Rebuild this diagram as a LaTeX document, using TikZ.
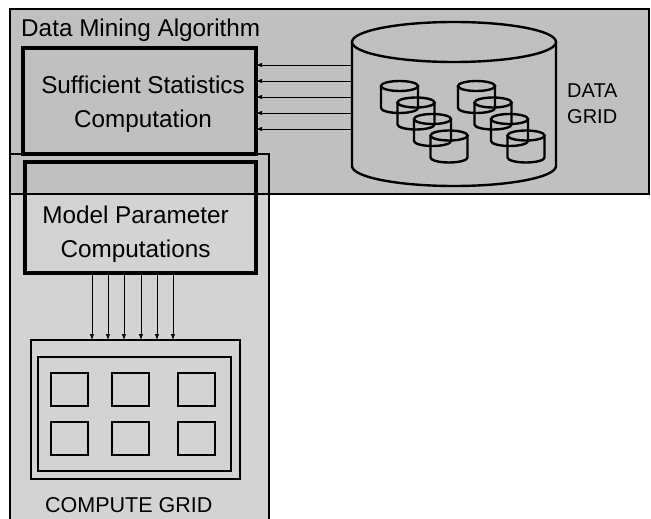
\documentclass[tikz,border=0pt]{standalone}
\usepackage{fontspec}
\setmainfont{Liberation Sans}
\usetikzlibrary{arrows.meta}
\definecolor{dmgray}{HTML}{C0C0C0}
\definecolor{cggray}{HTML}{D3D3D3}
\begin{document}
\begin{tikzpicture}[x=1pt,y=-1pt,
  area/.style={inner sep=0pt, outer sep=0pt, anchor=north west},
  frame/.style={draw=black, line width=1.3pt},
  thickbox/.style={area, draw=black, line width=3.5pt},
  arr/.style={-{Latex[length=6pt,width=4.5pt]}, line width=0.8pt},
  lbl/.style={font=\fontsize{24.3}{34}\selectfont, inner sep=0pt, anchor=base},
  small/.style={font=\fontsize{20}{27}\selectfont, inner sep=0pt, anchor=base west},
  cyl/.style={line width=2.4pt},
  sq/.style={area, draw=black, line width=2.2pt, minimum width=37pt, minimum height=33pt},
  mini/.pic={
    \draw[cyl] (18.5,5) ellipse[x radius=18.5pt, y radius=5pt];
    \draw[cyl] (0,5) -- (0,27) arc[start angle=180, end angle=360, x radius=18.5pt, y radius=5pt] -- (37,5);
  }
]
\useasboundingbox (0,0) rectangle (651,519);
\fill[white] (0,0) rectangle (651,519);
% backgrounds
\node[area, fill=cggray, minimum width=259pt, minimum height=371pt] (cg) at (10,154) {};
\node[area, fill=dmgray, minimum width=639pt, minimum height=185pt] (dm) at (10,9) {};
\draw[frame] (cg.north west) rectangle (cg.south east);
\draw[frame] (dm.north west) rectangle (dm.south east);
% title
\node[lbl, anchor=base west] (title) at (21,37) {Data Mining Algorithm};
% boxes
\node[thickbox, minimum width=233pt, minimum height=106pt] (ss) at (23,48) {};
\node[lbl] (ss1) at (143,94) {Sufficient Statistics};
\node[lbl] (ss2) at (143,128) {Computation};
\node[thickbox, minimum width=231pt, minimum height=111pt] (mp) at (25,162) {};
\node[lbl] (mp1) at (135.5,223) {Model Parameter};
\node[lbl] (mp2) at (135.5,257) {Computations};
% data grid cylinder
\node[area, minimum width=204pt, minimum height=124pt] (db) at (352,42) {};
\draw[cyl, fill=dmgray] (db.north west) -- (db.south west)
  arc[start angle=180, end angle=360, x radius=102pt, y radius=20pt] -- (db.north east);
\draw[cyl, fill=dmgray] (db.north) ellipse[x radius=102pt, y radius=20pt];
\foreach \i in {0,1,2,3} {
  \pic at ({381+16.5*\i},{81+16.5*\i}) {mini};
  \pic at ({458+16.5*\i},{81+16.5*\i}) {mini};
}
\node[small] (dg1) at (567,97) {DATA};
\node[small] (dg2) at (567,124) {GRID};
% arrows data -> sufficient statistics
\foreach \y in {65,81,97,113,129} {
  \draw[arr] (db.west |- 0,\y) -- (ss.east |- 0,\y);
}
% compute grid
\node[area, draw=black, line width=1.8pt, minimum width=209pt, minimum height=139pt] (cgo) at (31,340) {};
\node[area, draw=black, line width=2.6pt, minimum width=193pt, minimum height=114pt] (cgi) at (38,357) {};
\foreach \x/\n in {51/a,112/b,178/c} {
  \node[sq] (s1\n) at (\x,373) {};
  \node[sq] (s2\n) at (\x,422) {};
}
\foreach \x in {92,108,124,141,157,173} {
  \draw[arr] (mp.south -| \x,0) -- (cgo.north -| \x,0);
}
\node[lbl, font=\fontsize{21.5}{26}\selectfont, anchor=base west] (cgl) at (45,512) {COMPUTE GRID};
\end{tikzpicture}
\end{document}
